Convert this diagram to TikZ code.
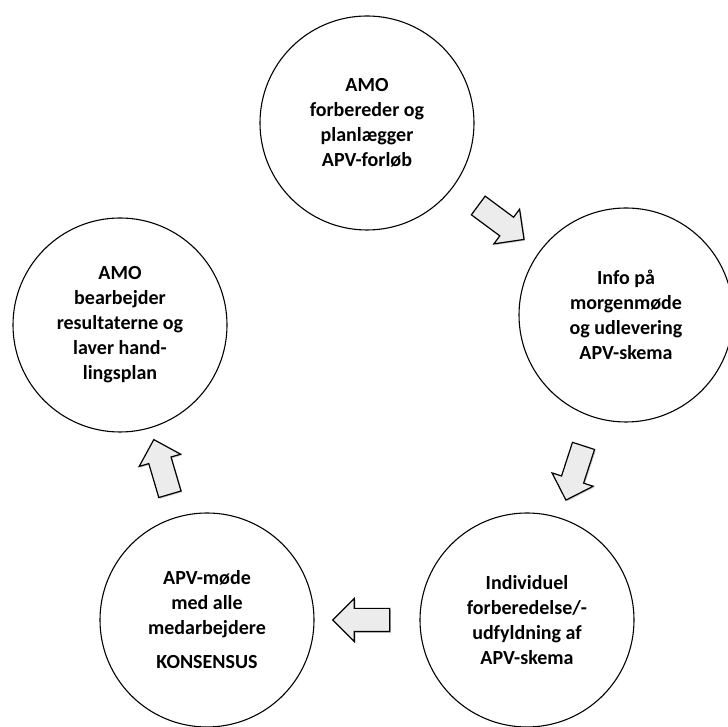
\documentclass[tikz,border=0pt]{standalone}
\usepackage{fontspec}
\setmainfont{Carlito}
\usepackage{tikz}
\usetikzlibrary{shapes.arrows, shadows}
\definecolor{arrowgray}{RGB}{236, 236, 236}
\definecolor{shadowgray}{RGB}{140, 140, 140}

\begin{document}
\begin{tikzpicture}[x=1pt, y=1pt,
  phase/.style={draw, circle, line width=1.1pt, fill=white, minimum size=214pt, inner sep=0pt, align=center, font=\fontsize{20}{25}\selectfont\bfseries},
  flowarrow/.style={single arrow, draw, line width=1.2pt, fill=arrowgray, minimum height=57pt, single arrow head extend=10pt, inner xsep=0pt, inner ysep=11pt, midway, sloped, allow upside down, drop shadow={shadow xshift=1.2pt, shadow yshift=-1.2pt, fill=shadowgray, opacity=0.45}}
]
  \useasboundingbox (0,0) rectangle (728,727);

  % Phase 1: AMO prepares
  \node[phase] (plan) at (367,604) {AMO\\forbereder og\\planlægger\\APV-forløb};

  % Phase 2: morning meeting
  \node[phase] (info) at (626,412) {Info på\\morgenmøde\\og udlevering\\APV-skema};

  % Phase 3: individual preparation
  \node[phase] (indiv) at (527,107) {Individuel\\forberedelse/-\\udfyldning af\\APV-skema};

  % Phase 4: APV meeting
  \node[phase] (meeting) at (207,107) {APV-møde\\med alle\\medarbejdere\\[9pt]KONSENSUS};

  % Phase 5: action plan
  \node[phase] (action) at (120,402) {AMO\\bearbejder\\resultaterne og\\laver hand-\\lingsplan};

  % Block arrows between the phases
  \path (plan) -- (info) node[flowarrow] (arrA) {};
  \path (info) -- (indiv) node[flowarrow] (arrB) {};
  \path (indiv) -- (meeting) node[flowarrow] (arrC) {};
  \path (meeting) -- (action) node[flowarrow] (arrD) {};
\end{tikzpicture}
\end{document}
